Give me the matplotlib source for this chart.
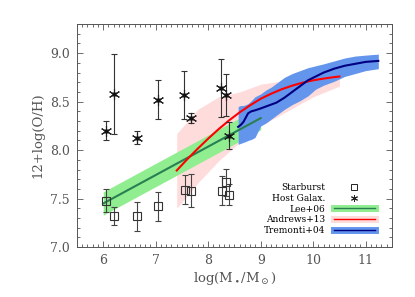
import numpy as np
import matplotlib
matplotlib.use("Agg")
import matplotlib.pyplot as plt
from matplotlib.lines import Line2D
from matplotlib.legend_handler import HandlerTuple
from matplotlib.ticker import MultipleLocator, FormatStrFormatter

plt.rcParams['font.family'] = ['DejaVu Serif']
plt.rcParams['mathtext.fontset'] = 'dejavuserif'

# starburst galaxies (squares)
sb_x = [6.05, 6.20, 6.65, 7.05, 7.55, 7.67, 8.26, 8.33, 8.40]
sb_y = [7.48, 7.32, 7.32, 7.42, 7.59, 7.58, 7.58, 7.67, 7.54]
sb_err = [0.12, 0.09, 0.15, 0.15, 0.15, 0.17, 0.15, 0.14, 0.11]

# host galaxies (asterisks)
host_x = [6.05, 6.20, 6.65, 7.05, 7.54, 7.67, 8.25, 8.34, 8.39]
host_y = [8.20, 8.58, 8.13, 8.52, 8.57, 8.33, 8.64, 8.57, 8.15]
host_err = [0.10, 0.41, 0.07, 0.20, 0.25, 0.05, 0.30, 0.22, 0.14]

# Lee+06 relation
lee_x = [6.0, 9.0]
lee_y = [7.45, 8.33]
lee_lo = [7.33, 8.21]
lee_hi = [7.57, 8.45]

# Andrews+13 relation
and_x = [7.4, 7.6, 7.8, 8.0, 8.2, 8.4, 8.6, 8.8, 9.0, 9.2, 9.4, 9.6, 9.8,
         10.0, 10.2, 10.4, 10.5]
and_y = [7.79, 7.906, 8.015, 8.119, 8.217, 8.308, 8.39, 8.463, 8.53, 8.582,
         8.628, 8.665, 8.696, 8.72, 8.738, 8.753, 8.759]
band_x = [7.4, 7.8, 8.2, 8.6, 9.0, 9.5, 10.0, 10.5]
and_lo = [7.40, 7.66, 7.89, 8.08, 8.25, 8.40, 8.55, 8.66]
and_hi = [8.17, 8.42, 8.55, 8.60, 8.68, 8.72, 8.76, 8.79]

# Tremonti+04 medians
tre_x = [8.57, 8.62, 8.67, 8.72, 8.76, 8.82, 8.89, 9.0, 9.1, 9.2, 9.3, 9.45,
         9.6, 9.75, 9.9, 10.05, 10.2, 10.4, 10.6, 10.8, 11.0, 11.24]
tre_y = [8.24, 8.26, 8.29, 8.34, 8.38, 8.40, 8.41, 8.43, 8.45, 8.47, 8.49, 8.54,
         8.60, 8.66, 8.72, 8.76, 8.80, 8.84, 8.87, 8.89, 8.91, 8.92]
tre_lo = [8.06, 8.07, 8.08, 8.09, 8.10, 8.11, 8.13, 8.25, 8.28, 8.32, 8.36, 8.42,
          8.47, 8.51, 8.56, 8.63, 8.67, 8.71, 8.76, 8.79, 8.82, 8.84]
tre_hi = [8.45, 8.46, 8.46, 8.47, 8.48, 8.51, 8.55, 8.58, 8.62, 8.65, 8.69, 8.75,
          8.79, 8.82, 8.85, 8.87, 8.89, 8.92, 8.95, 8.97, 8.98, 8.99]

grey = '#555555'
green_band = '#90ee90'
green_line = '#2a7f52'
pink_band = '#ffdcdc'
blue_band = '#6495ed'
blue_line = '#000080'

fig = plt.figure(figsize=(4.15, 2.97), dpi=100)
ax = fig.add_axes([0.1855, 0.168, 0.759, 0.751])

ax.fill_between(band_x, and_lo, and_hi, color=pink_band, lw=0)
ax.fill_between(lee_x, lee_lo, lee_hi, color=green_band, lw=0)
ax.plot(lee_x, lee_y, color=green_line, lw=1.5)
ax.plot(and_x, and_y, color='red', lw=1.5)
ax.fill_between(tre_x, tre_lo, tre_hi, color=blue_band, lw=0)
ax.plot(tre_x, tre_y, color=blue_line, lw=1.5)

ax.errorbar(host_x, host_y, yerr=host_err, fmt='none', ecolor='#333333',
            elinewidth=0.8, capsize=2.5, capthick=0.8)
ax.plot(host_x, host_y, ls='none', marker=(6, 2, 0), ms=8, mec='#222222', mew=0.8)
ax.plot(host_x, host_y, ls='none', marker='o', ms=2.2, color='#111111')

ax.errorbar(sb_x, sb_y, yerr=sb_err, fmt='none', ecolor='#444444',
            elinewidth=0.8, capsize=2.5, capthick=0.8)
ax.plot(sb_x, sb_y, ls='none', marker='s', ms=6, mfc='none', mec='#333333', mew=0.8)

ax.set_xlim(5.5, 11.5)
ax.set_ylim(7.0, 9.3)
ax.xaxis.set_major_locator(MultipleLocator(1))
ax.xaxis.set_minor_locator(MultipleLocator(0.1))
ax.yaxis.set_major_locator(MultipleLocator(0.5))
ax.yaxis.set_minor_locator(MultipleLocator(0.1))
ax.yaxis.set_major_formatter(FormatStrFormatter('%.1f'))
ax.tick_params(which='both', direction='in', top=True, right=True, color=grey,
               labelcolor=grey, labelsize=9, width=0.6)
ax.tick_params(which='major', length=4.5, pad=5)
ax.tick_params(which='minor', length=2)
for s in ax.spines.values():
    s.set_color(grey)
    s.set_linewidth(0.7)

ax.set_xlabel(r'log(M$_\bullet$/M$_\odot$)', color=grey, fontsize=9.5, labelpad=2)
ax.set_ylabel('12+log(O/H)', color=grey, fontsize=9.5, labelpad=4)

handles = [
    Line2D([], [], ls='none', marker='s', ms=4.5, mfc='none', mec='#222222', mew=0.7),
    Line2D([], [], ls='none', marker=(6, 2, 0), ms=5, mec='#222222', mew=0.7),
    (Line2D([], [], color=green_band, lw=5), Line2D([], [], color=green_line, lw=1)),
    (Line2D([], [], color=pink_band, lw=5), Line2D([], [], color='red', lw=1)),
    (Line2D([], [], color=blue_band, lw=5), Line2D([], [], color=blue_line, lw=1)),
]
labels = ['Starburst', 'Host Galax.', 'Lee+06', 'Andrews+13', 'Tremonti+04']
ax.legend(handles, labels, loc='lower right', bbox_to_anchor=(0.965, 0.025),
          frameon=False, markerfirst=False, fontsize=6.5, labelspacing=0.2,
          handlelength=4.5, handletextpad=1.0, borderpad=0.2,
          handler_map={tuple: HandlerTuple(ndivide=1)})

fig.savefig('out.png', dpi=100)
